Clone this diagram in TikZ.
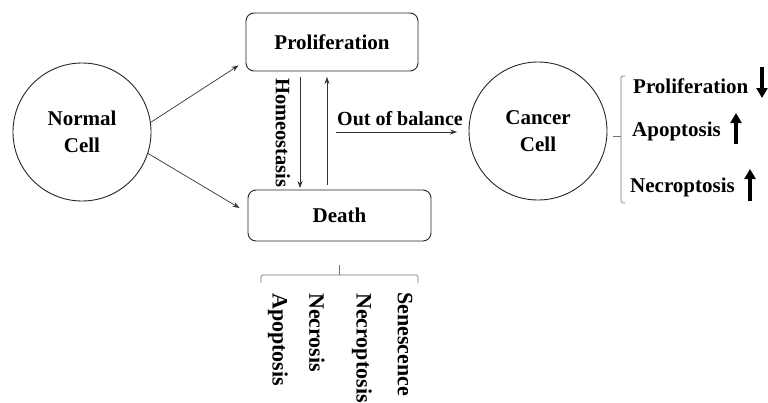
\documentclass[tikz,border=0pt]{standalone}
\usepackage{fontspec}
\setmainfont{Liberation Serif}
\usetikzlibrary{arrows.meta}
\begin{document}
\begin{tikzpicture}[x=1pt,y=-1pt,
  lbl/.style={font=\bfseries\fontsize{21}{27}\selectfont, inner sep=0pt},
  vlbl/.style={font=\bfseries\fontsize{22}{27}\selectfont, inner sep=0pt, rotate=-90, anchor=west},
  cell/.style={circle, draw=black!85, line width=0.9pt, minimum size=138pt, inner sep=0pt, align=center, font=\bfseries\fontsize{21}{27}\selectfont},
  stage/.style={draw=black!85, line width=0.9pt, rounded corners=8pt, inner sep=0pt, font=\bfseries\fontsize{21}{27}\selectfont},
  conn/.style={draw=black!80, line width=0.7pt, -{Stealth[length=7pt,width=5pt]}},
  brace/.style={draw=black!55, line width=0.7pt, rounded corners=1.5pt},
  bigarrow/.style={line width=3.2pt, -{Triangle[length=10pt,width=11pt]}}
]
\useasboundingbox (0,0) rectangle (768,402);

% cells
\node[cell] (normal) at (82,132) {Normal\\Cell};
\node[cell] (cancer) at (538,131) {Cancer\\Cell};

% boxes
\node[stage, minimum width=172pt, minimum height=58pt] (prolif) at (332,42) {Proliferation};
\node[stage, minimum width=183pt, minimum height=51pt] (death) at (339.5,215.5) {Death};

% arrows from normal cell
\coordinate (pin) at ([xshift=-7pt,yshift=6pt]prolif.south west);
\coordinate (din) at ([xshift=-8pt,yshift=7.5pt]death.west);
\draw[conn] (normal.8) -- (pin);
\draw[conn] (normal.-18) -- (din);

% homeostasis arrows
\coordinate (hd1) at (300,77);
\coordinate (hd2) at (300,188);
\coordinate (hu1) at (327,185);
\coordinate (hu2) at (327,77);
\draw[conn] (hd1) -- (hd2);
\draw[conn] (hu1) -- (hu2);
\node[lbl, rotate=-90, anchor=west, font=\bfseries\fontsize{20.5}{24}\selectfont] (homeo) at (283,78) {Homeostasis};

% out of balance
\coordinate (ob1) at (336,132);
\coordinate (ob2) at (457,132);
\draw[conn] (ob1) -- (ob2);
\node[lbl, font=\bfseries\fontsize{20}{24}\selectfont] (oob) at (400,119) {Out of balance};

% right brace
\coordinate (rb1) at (625,76);
\coordinate (rb2) at (621,76);
\coordinate (rb3) at (621,203);
\coordinate (rb4) at (625,203);
\coordinate (rbt) at (613,136);
\coordinate (rbm) at (621,136);
\draw[brace] (rb1) -- (rb2) -- (rb3) -- (rb4);
\draw[brace] (rbt) -- (rbm);

\node[lbl, anchor=west] (rp) at (633,86) {Proliferation};
\node[lbl, anchor=west] (ra) at (632,131) {Apoptosis};
\node[lbl, anchor=west] (rn) at (630,187) {Necroptosis};

\coordinate (a1s) at (762,67);
\coordinate (a1e) at (762,98);
\coordinate (a2s) at (736,144);
\coordinate (a2e) at (736,113);
\coordinate (a3s) at (750,201);
\coordinate (a3e) at (750,169);
\draw[bigarrow] (a1s) -- (a1e);
\draw[bigarrow] (a2s) -- (a2e);
\draw[bigarrow] (a3s) -- (a3e);

% bottom brace
\coordinate (bb1) at (261,283);
\coordinate (bb2) at (261,275);
\coordinate (bb3) at (418,275);
\coordinate (bb4) at (418,283);
\coordinate (bbt) at (339,265);
\coordinate (bbm) at (339,275);
\draw[brace] (bb1) -- (bb2) -- (bb3) -- (bb4);
\draw[brace] (bbt) -- (bbm);

\node[vlbl] (d1) at (278,293) {Apoptosis};
\node[vlbl] (d2) at (317,293) {Necrosis};
\node[vlbl] (d3) at (362,293) {Necroptosis};
\node[vlbl] (d4) at (405,292) {Senescence};
\end{tikzpicture}
\end{document}
